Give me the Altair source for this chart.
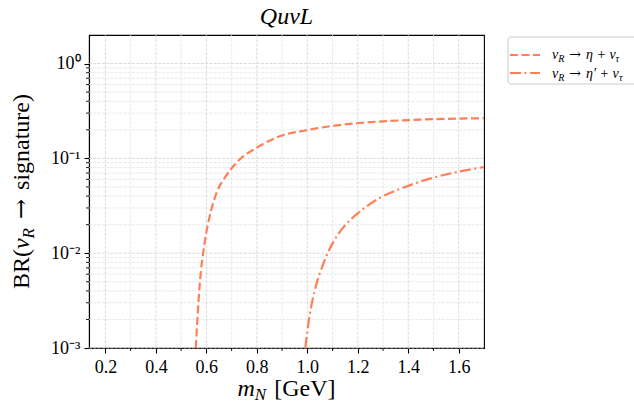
import altair as alt
import pandas as pd

# Branching ratios of the sterile neutrino into eta / eta' + nu_tau
eta_mass = [0.558, 0.574, 0.593, 0.613, 0.640, 0.679, 0.719, 0.798, 0.891,
            0.996, 1.089, 1.207, 1.445, 1.700]
eta_br = [1.0e-3, 4.8e-3, 0.0128, 0.0244, 0.043, 0.066, 0.090, 0.129, 0.171,
          0.198, 0.218, 0.236, 0.256, 0.265]

etap_mass = [0.992, 1.009, 1.029, 1.062, 1.102, 1.141, 1.201, 1.287, 1.393,
             1.511, 1.700]
etap_br = [1.0e-3, 2.2e-3, 4.0e-3, 7.55e-3, 0.0130, 0.0185, 0.0265, 0.0382,
           0.0506, 0.0637, 0.081]

x_major = [0.2, 0.4, 0.6, 0.8, 1.0, 1.2, 1.4, 1.6]
x_minor = [0.3, 0.5, 0.7, 0.9, 1.1, 1.3, 1.5]
y_major = [1e-3, 1e-2, 1e-1, 1.0]
y_minor = [m * d for d in (1e-3, 1e-2, 1e-1) for m in range(2, 10)]

W, H = 395, 313
SERIF = "Liberation Serif"
ARROW_FONT = "DejaVu Serif"
LINE_COLOR = "#ff7f56"

xscale = alt.Scale(domain=[0.135, 1.7], nice=False, zero=False)
yscale = alt.Scale(type="log", domain=[1e-3, 2], nice=False)

xaxis = alt.Axis(
    title=None, values=x_major, format=".1f", grid=False,
    domainColor="black", domainWidth=1.1, tickColor="black", tickWidth=1.1,
    tickSize=5, labelFont=SERIF, labelFontSize=18, labelColor="black",
    labelPadding=5, labelFlush=False, labelOverlap=False,
)
yaxis = alt.Axis(
    title=None, values=y_major, grid=False,
    labelExpr=("datum.value >= 0.5 ? '10⁰' : datum.value >= 0.05 ? '10⁻¹' : "
               "datum.value >= 0.005 ? '10⁻²' : '10⁻³'"),
    domainColor="black", domainWidth=1.1, tickColor="black", tickWidth=1.1,
    tickSize=5, labelFont=SERIF, labelFontSize=18, labelColor="black",
    labelPadding=4, labelFlush=False, labelOverlap=False,
)


def X(field):
    return alt.X(field, type="quantitative", scale=xscale, axis=xaxis)


def Y(field):
    return alt.Y(field, type="quantitative", scale=yscale, axis=yaxis)


# grid: major and minor, dashed
def vgrid(values, color):
    return alt.Chart(pd.DataFrame({"v": values})).mark_rule(
        color=color, strokeWidth=0.8, strokeDash=[3, 1.3]
    ).encode(x=X("v"), y=alt.value(0), y2=alt.value(H))


def hgrid(values, color):
    return alt.Chart(pd.DataFrame({"v": values})).mark_rule(
        color=color, strokeWidth=0.8, strokeDash=[3, 1.3]
    ).encode(y=Y("v"), x=alt.value(0), x2=alt.value(W))


grid = [
    vgrid(x_minor, "#e3e3e3"), hgrid(y_minor, "#e3e3e3"),
    vgrid(x_major, "#d2d2d2"), hgrid(y_major, "#d2d2d2"),
]

# minor ticks
xminor_ticks = alt.Chart(pd.DataFrame({"v": x_minor})).mark_rule(
    color="black", strokeWidth=0.9
).encode(x=X("v"), y=alt.value(H), y2=alt.value(H + 3))
yminor_ticks = alt.Chart(pd.DataFrame({"v": y_minor})).mark_rule(
    color="black", strokeWidth=0.9
).encode(y=Y("v"), x=alt.value(-3), x2=alt.value(0))

eta_df = pd.DataFrame({"m": eta_mass, "br": eta_br})
etap_df = pd.DataFrame({"m": etap_mass, "br": etap_br})

eta_line = alt.Chart(eta_df).mark_line(
    color=LINE_COLOR, strokeWidth=2.2, strokeDash=[8, 3.5],
    interpolate="monotone", clip=True,
).encode(x=X("m"), y=Y("br"), order="m:Q")
etap_line = alt.Chart(etap_df).mark_line(
    color=LINE_COLOR, strokeWidth=2.2, strokeDash=[11, 3.5, 2, 3.5],
    interpolate="monotone", clip=True,
).encode(x=X("m"), y=Y("br"), order="m:Q")

# rough glyph advance widths (em) for laying out mixed-style text runs
ADV = {"B": .667, "R": .667, "(": .333, ")": .333, " ": .25,
       "[": .333, "]": .333, "G": .722, "V": .722, "e": .444, "m": .722,
       "N": .667, "ν": .44, "η": .5, "τ": .43, "+": .675, "→": .838,
       "′": .25, "s": .389, "i": .278, "g": .5, "n": .5, "a": .444,
       "t": .278, "u": .5, "r": .333}


def adv(s, size, italic=False):
    w = 0.0
    for ch in s:
        a = ADV.get(ch, 0.5)
        if italic and ch == "R":
            a = .611
        w += a
    return w * size


def txt(s, x, y, size, italic=False, angle=0, align="left", font=SERIF):
    kw = dict(font=font, fontSize=size, color="black", align=align,
              baseline="alphabetic")
    if italic:
        kw["fontStyle"] = "italic"
    if angle:
        kw["angle"] = angle
    return alt.Chart(pd.DataFrame({"t": [s]})).mark_text(**kw).encode(
        text="t:N", x=alt.value(x), y=alt.value(y))


def run(pieces, start, base, rotated=False):
    """Lay out (text, size, italic, shift, gap_before, font) pieces in a row."""
    out = []
    pos = start
    for s, size, italic, shift, gap, font in pieces:
        pos += gap if not rotated else -gap
        if rotated:
            out.append(txt(s, base + shift, pos, size, italic, angle=270,
                           font=font))
            pos -= adv(s, size, italic)
        else:
            out.append(txt(s, pos, base + shift, size, italic, font=font))
            pos += adv(s, size, italic)
    return out


def run_len(pieces):
    return sum(adv(s, size, it) + gap for s, size, it, _, gap, _ in pieces)


labels = []

# title
labels.append(txt("QuνL", W / 2, -11, 24, italic=True, align="center"))

# x-axis title: m_N [GeV]
xt = [("m", 24, True, 0, 0, SERIF), ("N", 17, True, 4, 0, SERIF),
      ("[GeV]", 24, False, 0, 8, SERIF)]
labels += run(xt, W / 2 - run_len(xt) / 2, 361)

# y-axis title: BR(nu_R -> signature), reading upwards
yt = [("BR(", 24, False, 0, 0, SERIF), ("ν", 24, True, 0, 0, SERIF),
      ("R", 17, True, 5, 0, SERIF), ("→", 24, False, 0, 9, ARROW_FONT),
      ("signature)", 24, False, 0, 9, SERIF)]
labels += run(yt, H / 2 + run_len(yt) / 2, -60, rotated=True)

# legend
legend = [
    alt.Chart(pd.DataFrame({"a": [0]})).mark_rect(
        fill="white", stroke="#cccccc", strokeWidth=1, cornerRadius=3
    ).encode(x=alt.value(419), x2=alt.value(570), y=alt.value(2),
             y2=alt.value(49)),
    alt.Chart(pd.DataFrame({"a": [0]})).mark_rule(
        color=LINE_COLOR, strokeWidth=2.2, strokeDash=[8, 3.5]
    ).encode(x=alt.value(421), x2=alt.value(451), y=alt.value(20)),
    alt.Chart(pd.DataFrame({"a": [0]})).mark_rule(
        color=LINE_COLOR, strokeWidth=2.2, strokeDash=[11, 3.5, 2, 3.5]
    ).encode(x=alt.value(421), x2=alt.value(451), y=alt.value(38)),
]
for base, meson in ((24, "η"), (43, "η′")):
    entry = [("ν", 14, True, 0, 0, SERIF), ("R", 10, True, 3, 0, SERIF),
             ("→", 14, False, 0, 5, ARROW_FONT),
             (meson + " + ν", 14, True, 0, 5, SERIF),
             ("τ", 10, True, 3, 0, SERIF)]
    legend += run(entry, 463, base)

chart = alt.layer(
    *grid, xminor_ticks, yminor_ticks, eta_line, etap_line, *labels, *legend
).properties(
    width=W, height=H,
    autosize=alt.AutoSizeParams(type="none"),
    padding={"left": 89, "top": 35, "right": 150, "bottom": 56},
    background="white",
).configure_view(stroke="black", strokeWidth=1.1)

chart.save("out.html", embed_options={"renderer": "svg", "actions": False})
